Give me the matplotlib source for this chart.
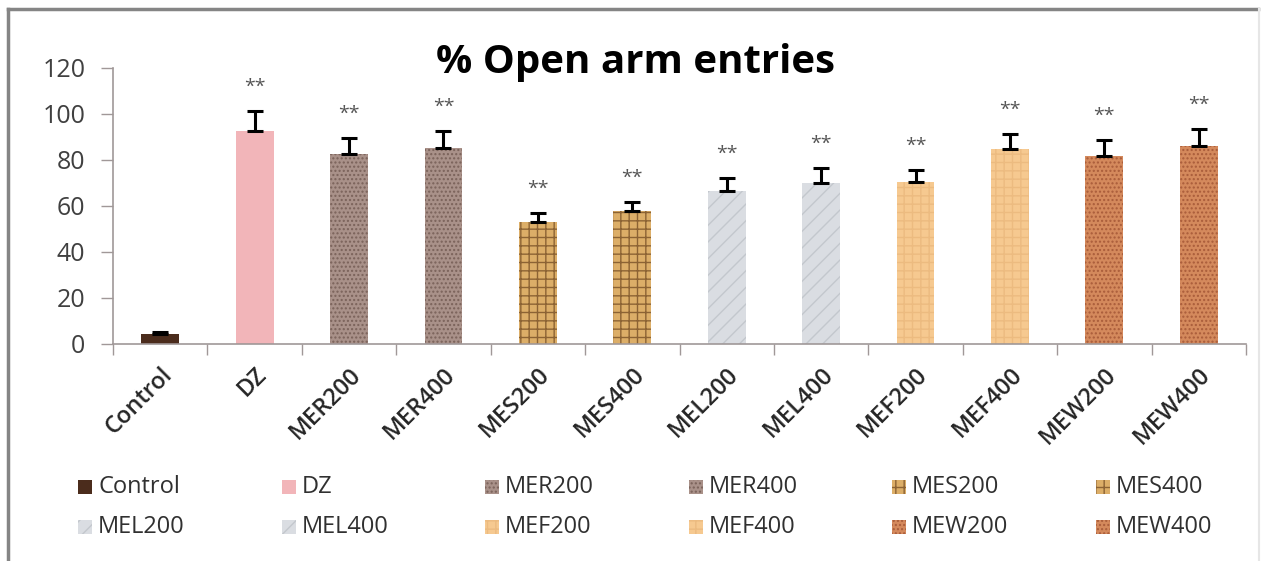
import numpy as np
import matplotlib
matplotlib.use("Agg")
import matplotlib.pyplot as plt
from matplotlib.patches import Rectangle
from matplotlib.lines import Line2D

plt.rcParams['font.family'] = ['Open Sans', 'DejaVu Sans']
plt.rcParams['hatch.linewidth'] = 1.0

# data
groups = ["Control", "DZ", "MER200", "MER400", "MES200", "MES400",
          "MEL200", "MEL400", "MEF200", "MEF400", "MEW200", "MEW400"]
values = [4.0, 92.5, 82.2, 85.0, 53.0, 57.8, 66.2, 69.6, 70.3, 84.5, 81.7, 85.8]
errors = [0.9, 8.4, 7.1, 7.4, 3.6, 3.9, 5.8, 6.8, 5.0, 6.6, 6.7, 7.5]
marks = ["", "**", "**", "**", "**", "**", "**", "**", "**", "**", "**", "**"]
yticks = [0, 20, 40, 60, 80, 100, 120]

# fill / texture per group (face colour, texture colour, hatch)
styles = {
    "Control": ("#4b2c1c", "#4b2c1c", None),
    "DZ": ("#f2b5b9", "#f2b5b9", None),
    "MER": ("#a99189", "#7a625a", "...."),
    "MES": ("#dcae68", "#8c6334", "++"),
    "MEL": ("#dadde2", "#c3c7cd", "//"),
    "MEF": ("#f6c990", "#ecbb80", "++"),
    "MEW": ("#d4895c", "#a95c3a", "...."),
}

W, H = 1263, 561
fig = plt.figure(figsize=(W / 100, H / 100), dpi=100)
ax = fig.add_axes([113 / W, 1 - 343.5 / H, (1246 - 113) / W, (343.5 - 67.5) / H])

x = np.arange(len(groups))
handles = []
for i, g in enumerate(groups):
    fc, hc, hatch = styles[g[:3]] if g[:3] in styles else styles[g]
    ax.bar(x[i], values[i], width=0.4, color=fc, edgecolor=hc,
           linewidth=0, hatch=hatch, zorder=2)
    handles.append((fc, hc, hatch))

# plus-only error bars, cap at bar top and at bar top + error
ax.errorbar(x, values, yerr=[np.zeros(len(errors)), errors], fmt="none",
            ecolor="black", elinewidth=2.2, capsize=5.5, capthick=2.2, zorder=3)

for i, m in enumerate(marks):
    if m:
        ax.text(x[i], values[i] + errors[i] + 10.5, m, ha="center", va="center",
                fontsize=14, color="#555555")

ax.set_xlim(-0.5, len(groups) - 0.5)
ax.set_ylim(0, 120)
ax.set_yticks(yticks)
ax.tick_params(axis="y", direction="out", length=9, width=1, color="#a09898",
               labelsize=18, labelcolor="#404040", pad=11)

# category labels at centers, ticks at boundaries
ax.set_xticks(x)
ax.set_xticklabels(groups, rotation=45, ha="right", rotation_mode="anchor",
                   fontsize=17, color="#252525", fontweight="semibold")
ax.tick_params(axis="x", length=0, pad=14)
ax.set_xticks(np.arange(-0.5, len(groups), 1.0), minor=True)
ax.tick_params(axis="x", which="minor", direction="out", length=8, width=1,
               color="#a09898")

for s in ["top", "right"]:
    ax.spines[s].set_visible(False)
for s in ["left", "bottom"]:
    ax.spines[s].set_color("#a09898")
    ax.spines[s].set_linewidth(1.2)

fig.text(636 / W, 1 - 62 / H, "% Open arm entries", ha="center", va="center",
         fontsize=29, fontweight="bold", color="black")

# legend laid out like the original: 2 rows x 6 evenly spaced columns
x0, dx = 78, 203.5
rows_y = [487, 527]
for i, g in enumerate(groups):
    fc, hc, hatch = handles[i]
    col, row = i % 6, i // 6
    px = x0 + col * dx
    py = rows_y[row]
    r = Rectangle((px / W, 1 - (py + 7) / H), 14 / W, 14 / H,
                  transform=fig.transFigure, facecolor=fc, edgecolor=hc,
                  linewidth=0, hatch=hatch)
    fig.add_artist(r)
    fig.text((px + 20) / W, 1 - py / H, g, ha="left", va="center",
             fontsize=17, color="#303030")

# outer frame of the chart area
fig.add_artist(Line2D([8 / W, 1258 / W], [1 - 9 / H, 1 - 9 / H],
                      transform=fig.transFigure, color="#858585", lw=2.5))
fig.add_artist(Line2D([8 / W, 8 / W], [1 - 9 / H, 0], transform=fig.transFigure,
                      color="#858585", lw=2.5))
fig.add_artist(Line2D([1259 / W, 1259 / W], [1 - 9 / H, 0],
                      transform=fig.transFigure, color="#e6e6e6", lw=1.5))

fig.savefig("out.png", dpi=100)
